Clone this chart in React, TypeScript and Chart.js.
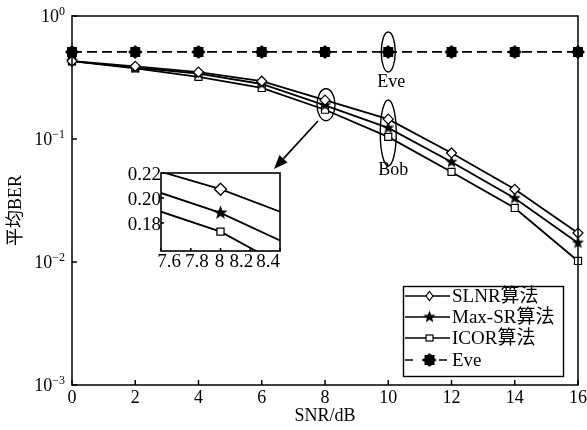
import React, { useEffect, useRef } from 'react';
import { Chart, registerables } from 'chart.js';
Chart.register(...registerables);

const snr = [0, 2, 4, 6, 8, 10, 12, 14, 16];
const slnr = [0.43, 0.39, 0.35, 0.295, 0.207, 0.145, 0.077, 0.039, 0.0172];
const maxSR = [0.43, 0.38, 0.34, 0.28, 0.188, 0.123, 0.065, 0.033, 0.0143];
const icor = [0.43, 0.375, 0.32, 0.26, 0.173, 0.104, 0.054, 0.0275, 0.0102];
const eve = [0.51, 0.51, 0.51, 0.51, 0.51, 0.51, 0.51, 0.51, 0.51];

const xTicks = [0, 2, 4, 6, 8, 10, 12, 14, 16];
const yExponents = [0, -1, -2, -3];

const insetX = [7.6, 8, 8.4];
const insetSlnr = [0.221, 0.207, 0.189];
const insetMaxSR = [0.204, 0.188, 0.166];
const insetIcor = [0.189, 0.173, 0.147];
const insetXTicks = [7.6, 7.8, 8, 8.2, 8.4];
const insetXLabels = ['7.6', '7.8', '8', '8.2', '8.4'];
const insetYTicks = [0.18, 0.2, 0.22];
const insetYLabels = ['0.18', '0.20', '0.22'];

const legendLabels = ['SLNR算法', 'Max-SR算法', 'ICOR算法', 'Eve'];

const SERIF = '"Liberation Serif", "Times New Roman", "Noto Sans CJK SC", serif';

function makeStarCanvas(points: number, outer: number, inner: number) {
  const c = document.createElement('canvas');
  const s = Math.ceil(outer * 2 + 2);
  c.width = s;
  c.height = s;
  const ctx = c.getContext('2d')!;
  ctx.fillStyle = '#000';
  ctx.beginPath();
  for (let i = 0; i < points * 2; i++) {
    const r = i % 2 === 0 ? outer : inner;
    const a = -Math.PI / 2 + (i * Math.PI) / points;
    const x = s / 2 + r * Math.cos(a);
    const y = s / 2 + r * Math.sin(a);
    if (i === 0) ctx.moveTo(x, y);
    else ctx.lineTo(x, y);
  }
  ctx.closePath();
  ctx.fill();
  return c;
}

function pts(xs: number[], ys: number[]) {
  return xs.map((x, i) => ({ x, y: ys[i] }));
}

export default function App() {
  const mainRef = useRef<HTMLCanvasElement>(null);
  const insetRef = useRef<HTMLCanvasElement>(null);

  useEffect(() => {
    const starImg = makeStarCanvas(5, 6.5, 2.7);
    const eveImg = makeStarCanvas(8, 7, 5.4);
    const insetStar = makeStarCanvas(5, 7.5, 3.1);

    const styles = [
      { pointStyle: 'rectRot' as any, radius: 5 },
      { pointStyle: starImg as any, radius: 6 },
      { pointStyle: 'rect' as any, radius: 5 },
      { pointStyle: eveImg as any, radius: 6 },
    ];

    const mkDs = (label: string, data: number[], idx: number, dashed = false) => ({
      label,
      data: pts(snr, data),
      borderColor: '#000',
      backgroundColor: '#fff',
      borderWidth: 1.8,
      borderDash: dashed ? [10, 5] : [],
      pointStyle: styles[idx].pointStyle,
      pointRadius: styles[idx].radius,
      pointBorderColor: '#000',
      pointBackgroundColor: '#fff',
      pointBorderWidth: 1.2,
      tension: 0,
      clip: false as any,
    });

    const drawMarker = (ctx: CanvasRenderingContext2D, idx: number, x: number, y: number) => {
      ctx.save();
      ctx.setLineDash([]);
      ctx.lineWidth = 1.2;
      ctx.strokeStyle = '#000';
      ctx.fillStyle = '#fff';
      if (idx === 0) {
        ctx.beginPath();
        ctx.moveTo(x, y - 4.5);
        ctx.lineTo(x + 3.5, y);
        ctx.lineTo(x, y + 4.5);
        ctx.lineTo(x - 3.5, y);
        ctx.closePath();
        ctx.fill();
        ctx.stroke();
      } else if (idx === 2) {
        ctx.fillRect(x - 3.5, y - 3, 7, 6);
        ctx.strokeRect(x - 3.5, y - 3, 7, 6);
      } else {
        const img = idx === 1 ? starImg : eveImg;
        ctx.drawImage(img, x - img.width / 2, y - img.height / 2);
      }
      ctx.restore();
    };

    const mainPlugin = {
      id: 'mainFrame',
      afterDraw(chart: any) {
        const ctx: CanvasRenderingContext2D = chart.ctx;
        const { left, right, top, bottom } = chart.chartArea;
        const xs = chart.scales.x;
        const ys = chart.scales.y;
        ctx.save();
        ctx.strokeStyle = '#000';
        ctx.fillStyle = '#000';
        ctx.lineWidth = 1.5;
        ctx.setLineDash([]);
        ctx.strokeRect(left, top, right - left, bottom - top);

        // y ticks and labels
        yExponents.forEach((e) => {
          const y = ys.getPixelForValue(Math.pow(10, e));
          ctx.beginPath();
          ctx.moveTo(left, y);
          ctx.lineTo(left + 5, y);
          ctx.stroke();
          const expTxt = e === 0 ? '0' : '\u2212' + String(-e);
          ctx.font = '12px ' + SERIF;
          const ew = ctx.measureText(expTxt).width;
          ctx.textAlign = 'left';
          ctx.textBaseline = 'alphabetic';
          const xEnd = left - 7;
          ctx.fillText(expTxt, xEnd - ew, y - 1);
          ctx.font = '18px ' + SERIF;
          ctx.textAlign = 'right';
          ctx.fillText('10', xEnd - ew, y + 6);
        });

        // x ticks and labels
        ctx.font = '18px ' + SERIF;
        ctx.textAlign = 'center';
        ctx.textBaseline = 'top';
        xTicks.forEach((v) => {
          const x = xs.getPixelForValue(v);
          ctx.beginPath();
          ctx.moveTo(x, bottom);
          ctx.lineTo(x, bottom - 5);
          ctx.stroke();
          ctx.fillText(String(v), x, bottom + 4);
        });

        // axis titles
        ctx.fillText('SNR/dB', (left + right) / 2, bottom + 22);
        ctx.save();
        ctx.translate(16, (top + bottom) / 2 + 10);
        ctx.rotate(-Math.PI / 2);
        ctx.textBaseline = 'middle';
        ctx.fillText('平均BER', 0, 0);
        ctx.restore();

        // ellipses
        ctx.lineWidth = 1.4;
        const ell = (cx: number, cy: number, rx: number, ry: number) => {
          ctx.beginPath();
          ctx.ellipse(cx, cy, rx, ry, 0, 0, Math.PI * 2);
          ctx.stroke();
        };
        const x8 = xs.getPixelForValue(8);
        const x10 = xs.getPixelForValue(10);
        ell(x8 + 1, ys.getPixelForValue(0.19), 9, 16);
        ell(x10, ys.getPixelForValue(eve[5]), 7, 20);
        ell(x10, ys.getPixelForValue(0.112), 8, 33);

        ctx.font = '18px ' + SERIF;
        ctx.textAlign = 'center';
        ctx.textBaseline = 'middle';
        ctx.fillText('Eve', x10 + 3, 82);
        ctx.fillText('Bob', x10 + 5, 170);

        // arrow
        const ax0 = 318, ay0 = 121, ax1 = 274, ay1 = 169;
        const ang = Math.atan2(ay1 - ay0, ax1 - ax0);
        const hl = 14, hw = 5.5;
        const bx = ax1 - hl * Math.cos(ang);
        const by = ay1 - hl * Math.sin(ang);
        ctx.lineWidth = 1.7;
        ctx.beginPath();
        ctx.moveTo(ax0, ay0);
        ctx.lineTo(bx, by);
        ctx.stroke();
        ctx.beginPath();
        ctx.moveTo(ax1, ay1);
        ctx.lineTo(bx + hw * Math.sin(ang), by - hw * Math.cos(ang));
        ctx.lineTo(bx - hw * Math.sin(ang), by + hw * Math.cos(ang));
        ctx.closePath();
        ctx.fill();

        // legend
        const lx = 403.5, ly = 286.5, lw = 160, lh = 90;
        ctx.fillStyle = '#fff';
        ctx.fillRect(lx, ly, lw, lh);
        ctx.lineWidth = 1.4;
        ctx.strokeRect(lx, ly, lw, lh);
        const rows = [296, 317, 338, 360];
        legendLabels.forEach((lab, i) => {
          const y = rows[i];
          ctx.strokeStyle = '#000';
          ctx.lineWidth = 1.7;
          ctx.setLineDash(i === 3 ? [8, 9] : []);
          ctx.beginPath();
          ctx.moveTo(405, y);
          ctx.lineTo(450, y);
          ctx.stroke();
          ctx.setLineDash([]);
          drawMarker(ctx, i, 429.5, y);
          ctx.fillStyle = '#000';
          ctx.font = '19px ' + SERIF;
          ctx.textAlign = 'left';
          ctx.textBaseline = 'middle';
          ctx.fillText(lab, 452, y + 1);
        });
        ctx.restore();
      },
    };

    const main = new Chart(mainRef.current!, {
      type: 'line',
      data: {
        datasets: [
          mkDs('SLNR算法', slnr, 0),
          mkDs('Max-SR算法', maxSR, 1),
          mkDs('ICOR算法', icor, 2),
          mkDs('Eve', eve, 3, true),
        ] as any,
      },
      options: {
        animation: false,
        responsive: false,
        devicePixelRatio: 1,
        layout: { padding: { left: 72, top: 16, right: 9, bottom: 45 } },
        scales: {
          x: { type: 'linear', min: 0, max: 16, display: false },
          y: { type: 'logarithmic', min: 0.001, max: 1, display: false },
        },
        plugins: { legend: { display: false }, tooltip: { enabled: false } },
      },
      plugins: [mainPlugin],
    });

    const insetLabelShift = [8, 6, -1, -9, -12];

    const insetPlugin = {
      id: 'insetFrame',
      beforeDatasetsDraw(chart: any) {
        const ctx: CanvasRenderingContext2D = chart.ctx;
        const { left, right, top, bottom } = chart.chartArea;
        ctx.save();
        ctx.fillStyle = '#fff';
        ctx.fillRect(left, top, right - left, bottom - top);
        ctx.restore();
      },
      afterDraw(chart: any) {
        const ctx: CanvasRenderingContext2D = chart.ctx;
        const { left, right, top, bottom } = chart.chartArea;
        const xs = chart.scales.x;
        const ys = chart.scales.y;
        ctx.save();
        ctx.strokeStyle = '#000';
        ctx.fillStyle = '#000';
        ctx.lineWidth = 1.6;
        ctx.strokeRect(left, top, right - left, bottom - top);
        ctx.font = '19px ' + SERIF;
        ctx.textAlign = 'right';
        ctx.textBaseline = 'middle';
        insetYTicks.forEach((v, i) => {
          const y = ys.getPixelForValue(v);
          ctx.beginPath();
          ctx.moveTo(left, y);
          ctx.lineTo(left + 3, y);
          ctx.stroke();
          ctx.fillText(insetYLabels[i], left, y + 2);
        });
        ctx.textAlign = 'center';
        ctx.textBaseline = 'top';
        insetXTicks.forEach((v, i) => {
          const x = xs.getPixelForValue(v);
          ctx.beginPath();
          ctx.moveTo(x, bottom);
          ctx.lineTo(x, bottom - 3);
          ctx.stroke();
          ctx.fillText(insetXLabels[i], x + insetLabelShift[i], bottom + 2);
        });
        ctx.restore();
      },
    };

    const insetDs = (data: number[], style: any, radius: number) => ({
      data: pts(insetX, data),
      borderColor: '#000',
      backgroundColor: '#fff',
      borderWidth: 1.8,
      pointStyle: style,
      pointRadius: [0, radius, 0],
      pointBorderColor: '#000',
      pointBackgroundColor: '#fff',
      pointBorderWidth: 1.3,
      tension: 0,
    });

    const inset = new Chart(insetRef.current!, {
      type: 'line',
      data: {
        datasets: [
          insetDs(insetSlnr, 'rectRot', 6),
          insetDs(insetMaxSR, insetStar, 7),
          insetDs(insetIcor, 'rect', 5),
        ] as any,
      },
      options: {
        animation: false,
        responsive: false,
        devicePixelRatio: 1,
        layout: { padding: { left: 61, top: 13, right: 10, bottom: 24 } },
        scales: {
          x: { type: 'linear', min: 7.6, max: 8.4, display: false },
          y: { type: 'linear', min: 0.1575, max: 0.22, display: false },
        },
        plugins: { legend: { display: false }, tooltip: { enabled: false } },
      },
      plugins: [insetPlugin],
    });

    return () => {
      main.destroy();
      inset.destroy();
    };
  }, []);

  return (
    <div style={{ position: 'absolute', left: 0, top: 0, width: 587, height: 430, background: '#fff' }}>
      <canvas ref={mainRef} width={587} height={430} style={{ position: 'absolute', left: 0, top: 0, width: 587, height: 430 }} />
      <canvas ref={insetRef} width={190} height={115} style={{ position: 'absolute', left: 100, top: 160, width: 190, height: 115 }} />
    </div>
  );
}
